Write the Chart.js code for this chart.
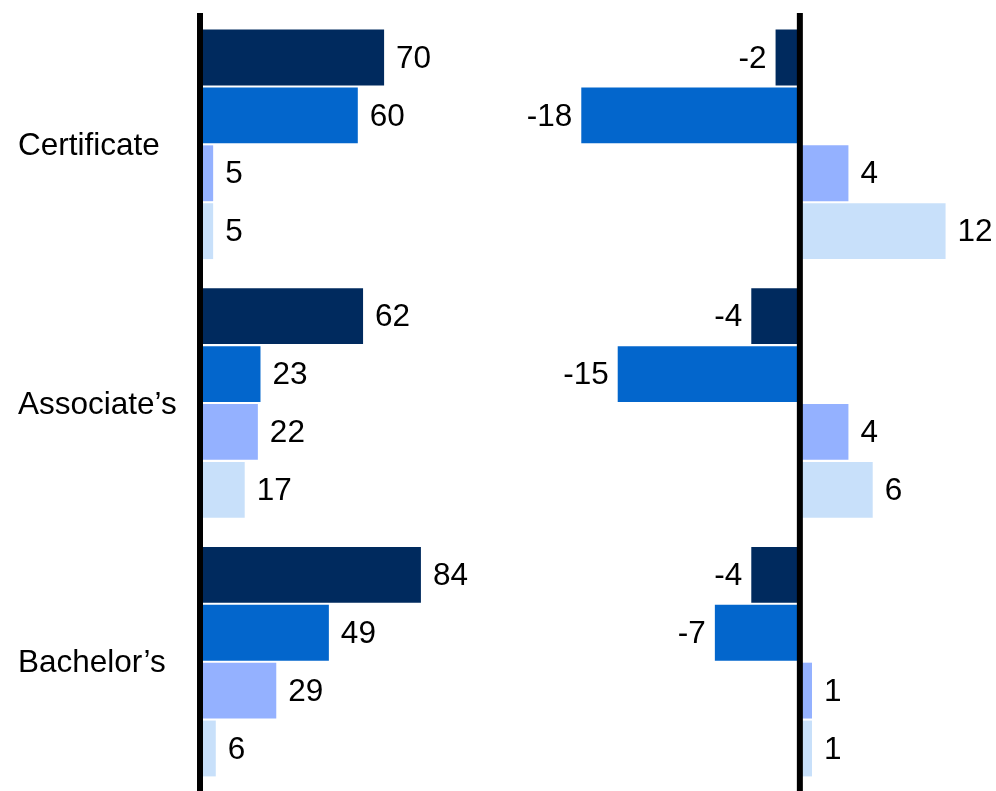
<!DOCTYPE html>
<html>
<head>
<meta charset="utf-8">
<script src="https://cdn.jsdelivr.net/npm/chart.js@4.4.1/dist/chart.umd.min.js"></script>
<style>
  html, body { margin: 0; padding: 0; background: #fff; }
  #wrap { position: relative; width: 996px; height: 791px; overflow: hidden; }
  #leftBox { position: absolute; left: 0; top: 0; width: 500px; height: 791px; }
  #rightBox { position: absolute; left: 500px; top: 0; width: 496px; height: 791px; }
</style>
</head>
<body>
<div id="wrap">
  <div id="leftBox"><canvas id="levels"></canvas></div>
  <div id="rightBox"><canvas id="changes"></canvas></div>
</div>
<script>
// Credential types shown down the side
const categories = ['Certificate', 'Associate\u2019s', 'Bachelor\u2019s'];

// Left panel: levels, one array per series
const levelsA = [70, 62, 84];
const levelsB = [60, 23, 49];
const levelsC = [5, 22, 29];
const levelsD = [5, 17, 6];

// Right panel: changes, one array per series
const changeA = [-2, -4, -4];
const changeB = [-18, -15, -7];
const changeC = [4, 4, 1];
const changeD = [12, 6, 1];

const seriesColors = ['#002a5e', '#0366cc', '#94b1ff', '#c8e0fa'];
const FONT_FAMILY = '"Liberation Sans", Arial, Helvetica, sans-serif';
const FONT_SIZE = 31.5;

function makeSets(seriesList) {
  return seriesList.map((vals, i) => ({
    label: 'Series ' + (i + 1),
    data: vals,
    backgroundColor: seriesColors[i],
    borderWidth: 0,
    categoryPercentage: 0.895,
    barPercentage: 0.965
  }));
}

// Numbers printed at the end of each bar
const valueLabels = {
  id: 'valueLabels',
  afterDatasetsDraw(chart) {
    const ctx = chart.ctx;
    ctx.save();
    ctx.font = FONT_SIZE + 'px ' + FONT_FAMILY;
    ctx.fillStyle = '#000';
    ctx.textBaseline = 'middle';
    chart.data.datasets.forEach((ds, i) => {
      chart.getDatasetMeta(i).data.forEach((bar, j) => {
        const v = ds.data[j];
        if (v >= 0) {
          ctx.textAlign = 'left';
          ctx.fillText(String(v), bar.x + 12, bar.y + 1.5);
        } else {
          ctx.textAlign = 'right';
          ctx.fillText(String(v), bar.x - 9, bar.y + 1.5);
        }
      });
    });
    ctx.restore();
  }
};

// Heavy black line at zero
const zeroLine = {
  id: 'zeroLine',
  afterDatasetsDraw(chart) {
    const { ctx, chartArea } = chart;
    const px = chart.scales.x.getPixelForValue(0);
    ctx.save();
    ctx.fillStyle = '#000';
    ctx.fillRect(px - 3, chartArea.top - 2, 6, chart.height - chartArea.top + 2);
    ctx.restore();
  }
};

const common = {
  indexAxis: 'y',
  responsive: true,
  maintainAspectRatio: false,
  animation: false,
  plugins: { legend: { display: false }, tooltip: { enabled: false } }
};

new Chart(document.getElementById('levels'), {
  type: 'bar',
  data: { labels: categories, datasets: makeSets([levelsA, levelsB, levelsC, levelsD]) },
  options: Object.assign({}, common, {
    layout: { padding: { left: 18, right: 37, top: 15, bottom: 0 } },
    scales: {
      x: { display: false, min: 0, max: 100 },
      y: {
        grid: { display: false, drawTicks: false },
        border: { display: false },
        ticks: {
          crossAlign: 'far',
          padding: 0,
          labelOffset: 2,
          color: '#000',
          font: { family: FONT_FAMILY, size: FONT_SIZE }
        },
        afterFit(scale) {
          scale.width = 182;
          scale.paddingTop = 0;
          scale.paddingBottom = 0;
        }
      }
    }
  }),
  plugins: [valueLabels, zeroLine]
});

new Chart(document.getElementById('changes'), {
  type: 'bar',
  data: { labels: categories, datasets: makeSets([changeA, changeB, changeC, changeD]) },
  options: Object.assign({}, common, {
    layout: { padding: { left: 57, right: 14, top: 15, bottom: 0 } },
    scales: {
      x: { display: false, min: -20, max: 15 },
      y: { display: false }
    }
  }),
  plugins: [valueLabels, zeroLine]
});
</script>
</body>
</html>
